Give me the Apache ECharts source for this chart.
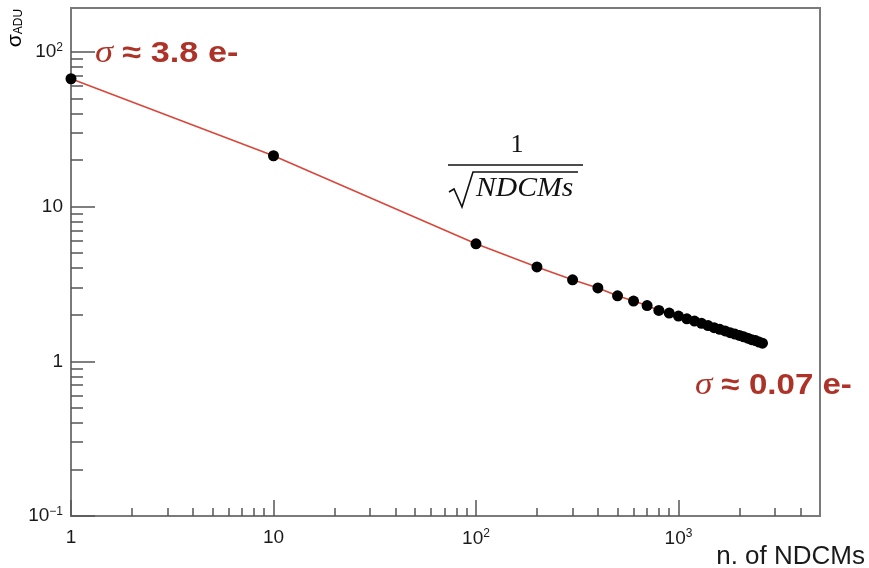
<!DOCTYPE html>
<html><head><meta charset="utf-8">
<script src="https://cdn.jsdelivr.net/npm/echarts@6/dist/echarts.min.js"></script>
<style>html,body{margin:0;padding:0;background:#fff}#c{width:869px;height:568px}</style>
</head><body><div id="c"></div>
<script>
const nValues = [1,10,100,200,300,400,500,600,700,800,900,1000,1100,1200,1300,1400,1500,1600,1700,1800,1900,2000,2100,2200,2300,2400,2500,2600];
const sigmaValues = [67,21.3,5.74,4.07,3.36,2.98,2.65,2.45,2.29,2.13,2.05,1.96,1.88,1.82,1.76,1.70,1.65,1.61,1.57,1.53,1.50,1.47,1.44,1.41,1.38,1.36,1.33,1.31];
const xMajorTicks = [1,10,100,1000];
const xMinorTicks = [2,3,4,5,6,7,8,9,20,30,40,50,60,70,80,90,200,300,400,500,600,700,800,900,2000,3000,4000];
const yMajorTicks = [0.1,1,10,100];
const yMinorTicks = [0.2,0.3,0.4,0.5,0.6,0.7,0.8,0.9,2,3,4,5,6,7,8,9,20,30,40,50,60,70,80,90];
const xRange = [1,5000];
const yRange = [0.1,192];

const red = '#ad3328';
const frame = '#7a7a7a';
const tickCol = '#555';
const lblFont = 'Liberation Sans';
const lblCol = '#1a1a1a';

function powLabel(v){
  const e = Math.round(Math.log10(v));
  if (e === 0) return '1';
  if (e === 1) return '10';
  return '10{sup|' + (e < 0 ? '\u2212' + (-e) : e) + '}';
}
const supRich = {sup:{fontSize:12, padding:[0,0,9,0], color:lblCol, fontFamily:lblFont}};

const data = nValues.map((n,i)=>[n, sigmaValues[i]]);

const chart = echarts.init(document.getElementById('c'));
chart.setOption({
  animation:false,
  backgroundColor:'#fff',
  grid:{left:71, top:8, right:49, bottom:52, show:true, borderColor:frame, borderWidth:2, backgroundColor:'transparent'},
  xAxis:[
    {type:'log', logBase:10, min:xRange[0], max:xRange[1], position:'bottom',
     axisLine:{show:true, onZero:false, lineStyle:{color:frame, width:2}},
     axisTick:{show:true, inside:true, length:16, customValues:xMajorTicks, lineStyle:{color:tickCol, width:1.5}},
     axisLabel:{show:true, customValues:xMajorTicks, formatter:powLabel, rich:supRich, margin:12, fontSize:19, color:lblCol, fontFamily:lblFont},
     splitLine:{show:false}},
    {type:'log', logBase:10, min:xRange[0], max:xRange[1], position:'bottom',
     axisLine:{show:false},
     axisTick:{show:true, inside:true, length:8, customValues:xMinorTicks, lineStyle:{color:tickCol, width:1.5}},
     axisLabel:{show:false}, splitLine:{show:false}}
  ],
  yAxis:[
    {type:'log', logBase:10, min:yRange[0], max:yRange[1], position:'left',
     axisLine:{show:true, onZero:false, lineStyle:{color:frame, width:2}},
     axisTick:{show:true, inside:true, length:24, customValues:yMajorTicks, lineStyle:{color:tickCol, width:1.5}},
     axisLabel:{show:true, customValues:yMajorTicks, formatter:powLabel, rich:supRich, margin:8, fontSize:19, color:lblCol, fontFamily:lblFont},
     splitLine:{show:false}},
    {type:'log', logBase:10, min:yRange[0], max:yRange[1], position:'left',
     axisLine:{show:false},
     axisTick:{show:true, inside:true, length:12, customValues:yMinorTicks, lineStyle:{color:tickCol, width:1.5}},
     axisLabel:{show:false}, splitLine:{show:false}}
  ],
  series:[{
    type:'line', xAxisIndex:0, yAxisIndex:0, data:data,
    symbol:'circle', symbolSize:11, itemStyle:{color:'#000'},
    lineStyle:{color:'#d9463a', width:1.6}, z:3, clip:false
  }],
  graphic:[
    {type:'text', x:15, y:28, rotation:Math.PI/2,
     style:{text:'{a|σ}{b|ADU}', align:'center', verticalAlign:'middle',
       rich:{a:{fontSize:21, fontFamily:lblFont, color:lblCol}, b:{fontSize:12, fontFamily:lblFont, color:lblCol, padding:[8,0,0,0]}}}},
    {type:'text', x:865, y:557,
     style:{text:'n. of NDCMs', align:'right', verticalAlign:'middle', fontSize:26, fontFamily:lblFont, fill:lblCol}},
    {type:'text', x:95, y:54, scaleX:1.18,
     style:{text:'{s|σ} ≈ 3.8 e-', align:'left', verticalAlign:'middle', fontSize:29, fontWeight:'bold', fontFamily:lblFont, fill:red,
       rich:{s:{fontFamily:'Liberation Serif', fontStyle:'italic', fontWeight:'normal', fontSize:31, fill:red}}}},
    {type:'text', x:695, y:386, scaleX:1.14, z:-1,
     style:{text:'{s|σ} ≈ 0.07 e-', align:'left', verticalAlign:'middle', fontSize:29, fontWeight:'bold', fontFamily:lblFont, fill:red,
       rich:{s:{fontFamily:'Liberation Serif', fontStyle:'italic', fontWeight:'normal', fontSize:31, fill:red}}}},
    {type:'text', x:517, y:145,
     style:{text:'1', align:'center', verticalAlign:'middle', fontSize:26, fontFamily:'Liberation Serif', fill:'#111'}},
    {type:'line', shape:{x1:448, y1:165, x2:583, y2:165}, style:{stroke:'#111', lineWidth:1.6}},
    {type:'polyline', shape:{points:[[449,192],[454,189],[462,207],[473,172],[578,172]]}, style:{stroke:'#111', lineWidth:1.6, fill:null}},
    {type:'text', x:476, y:189, scaleX:1.1,
     style:{text:'NDCMs', align:'left', verticalAlign:'middle', fontSize:27, fontStyle:'italic', fontFamily:'Liberation Serif', fill:'#111'}}
  ]
});
</script></body></html>
